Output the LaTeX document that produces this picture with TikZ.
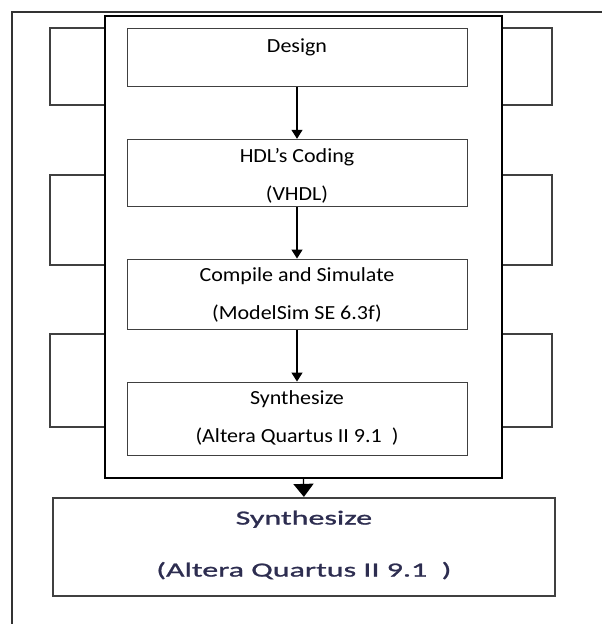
\documentclass[tikz,border=0pt]{standalone}
\usepackage{xcolor}
\usepackage{fontspec}
\setmainfont{Carlito}
\newfontfamily\boxfont[FakeStretch=1.1]{Carlito}
\newfontfamily\blurfont[FakeStretch=1.6,FakeBold=1.2]{Carlito}
\definecolor{blurink}{RGB}{45,45,80}
\usepackage{tikz}
\usetikzlibrary{positioning,arrows.meta}
\tikzset{
  backbox/.style={draw=black!75, line width=2.2pt, minimum width=502pt},
  stepbox/.style={draw=black!75, line width=1pt, fill=white, minimum width=340pt},
  lbl/.style={font=\boxfont\fontsize{20}{24}\selectfont, inner sep=0pt, text height=1.5ex, text depth=.4ex},
  blurlbl/.style={font=\blurfont\fontsize{20}{24}\selectfont, text=blurink, inner sep=0pt, text height=1.5ex, text depth=.4ex},
  flow/.style={-{Triangle[width=11pt,length=9pt]}, line width=1.3pt},
  bigflow/.style={-{Triangle[width=20pt,length=13pt]}, line width=1.3pt}
}

\begin{document}
\begin{tikzpicture}[x=1pt, y=-1pt]

% Page area and outer frame (runs off right and bottom)
\clip (0,0) rectangle (602,624);
\draw[line width=1.8pt, black!80] (11.7,12.3) rectangle (640,660);

% Boxes of the slide behind
\node[backbox, minimum height=76.7pt] (back1) at (301.3,66.7) {};
\node[backbox, minimum height=90pt] (back2) at (301.3,220) {};
\node[backbox, minimum height=93pt] (back3) at (301.3,380.5) {};
\node[backbox, minimum width=502.3pt, minimum height=98pt] (synthb) at (303.9,547) {};
\node[blurlbl] (synthbtxt) at ([yshift=-25pt]synthb.north) {Synthesize};
\node[blurlbl] (quartusbtxt) at ([yshift=-77pt]synthb.north) {(Altera Quartus II 9.1~~)};

% Front panel
\node[draw, fill=white, line width=1.8pt, minimum width=396.7pt, minimum height=461.7pt] (panel) at (303.4,246.9) {};

% Flow boxes
\node[stepbox, minimum height=57.7pt] (design) at (297,57.2) {};
\node[stepbox, minimum height=67.4pt] (coding) at (297,173) {};
\node[stepbox, minimum height=70.3pt] (compile) at (297,294.2) {};
\node[stepbox, minimum height=73.7pt] (synth) at (297,418.9) {};

% Box texts
\node[lbl] (designtxt) at ([yshift=-21.7pt]design.north) {Design};
\node[lbl] (codingtxt) at ([yshift=-20.7pt]coding.north) {HDL’s Coding};
\node[lbl] (vhdltxt) at ([yshift=-58.7pt]coding.north) {(VHDL)};
\node[lbl] (compiletxt) at ([yshift=-20pt]compile.north) {Compile and Simulate};
\node[lbl] (modelsimtxt) at ([yshift=-58pt]compile.north) {(ModelSim SE 6.3f)};
\node[lbl] (synthtxt) at ([yshift=-20pt]synth.north) {Synthesize};
\node[lbl] (quartustxt) at ([yshift=-58.3pt]synth.north) {(Altera Quartus II 9.1~~)};

% Arrows
\draw[flow] (design) -- (coding);
\draw[flow] (coding) -- (compile);
\draw[flow] (compile) -- (synth);
\draw[bigflow] (panel.south) -- (synthb.north);

\end{tikzpicture}
\end{document}
